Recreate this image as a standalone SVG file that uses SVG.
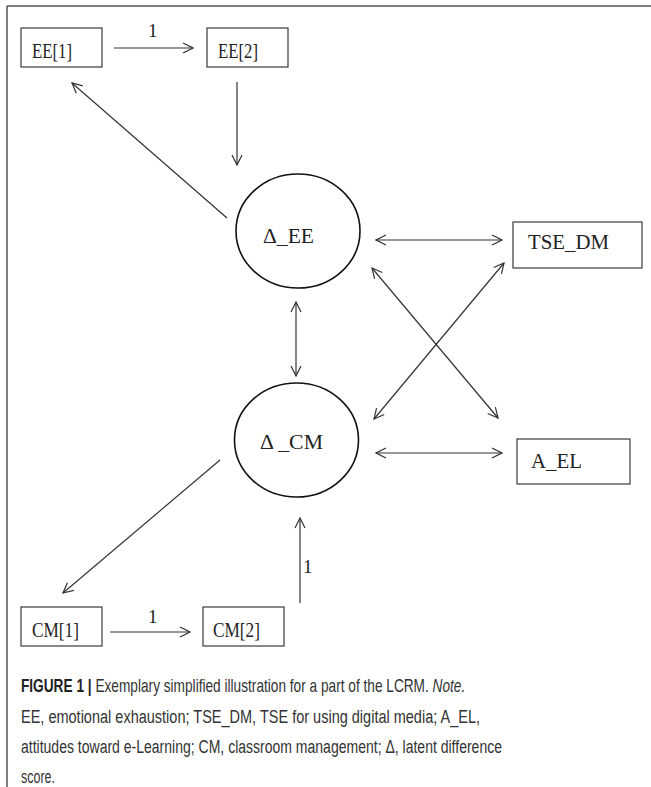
<svg xmlns="http://www.w3.org/2000/svg" width="651" height="787" viewBox="0 0 651 787">
<style>
.box{fill:#fff;stroke:#3a3a3a;stroke-width:1.2}
.lat{fill:#fff;stroke:#111;stroke-width:1.6}
.lbl{font-family:"Liberation Serif","Times New Roman",serif;font-size:22px;fill:#222}
.num{font-family:"Liberation Serif","Times New Roman",serif;font-size:19px;fill:#222}
.con{stroke:#333;stroke-width:1.2;fill:none}
.cap{font-family:"Liberation Sans",Arial,sans-serif;font-size:18px;fill:#333}
</style>
<defs>
<marker id="ah" viewBox="0 0 12 12" refX="11" refY="6" markerWidth="12" markerHeight="12" markerUnits="userSpaceOnUse" orient="auto-start-reverse">
<path d="M1,1 L11,6 L1,11" fill="none" stroke="#333" stroke-width="1.2"/>
</marker>
</defs>
<rect width="651" height="787" fill="#fff"/>
<g id="frame">
<line x1="7" y1="6" x2="651" y2="6" stroke="#555" stroke-width="1.5"/>
<line x1="7" y1="6" x2="7" y2="787" stroke="#555" stroke-width="1.5"/>
</g>
<g id="connectors">
<line class="con" x1="114" y1="48" x2="193" y2="48" marker-end="url(#ah)"/>
<line class="con" x1="237" y1="82" x2="237" y2="165" marker-end="url(#ah)"/>
<line class="con" x1="227" y1="218" x2="72" y2="83" marker-end="url(#ah)"/>
<line class="con" x1="376" y1="240" x2="502" y2="240" marker-start="url(#ah)" marker-end="url(#ah)"/>
<line class="con" x1="296" y1="302" x2="296" y2="376" marker-start="url(#ah)" marker-end="url(#ah)"/>
<line class="con" x1="372" y1="268" x2="498" y2="418" marker-start="url(#ah)" marker-end="url(#ah)"/>
<line class="con" x1="504" y1="263" x2="374" y2="419" marker-start="url(#ah)" marker-end="url(#ah)"/>
<line class="con" x1="376" y1="453" x2="502" y2="453" marker-start="url(#ah)" marker-end="url(#ah)"/>
<line class="con" x1="220" y1="460" x2="63" y2="593" marker-end="url(#ah)"/>
<line class="con" x1="300" y1="603" x2="300" y2="518" marker-end="url(#ah)"/>
<line class="con" x1="110" y1="632" x2="190" y2="632" marker-end="url(#ah)"/>
<text class="num" x="148" y="37">1</text>
<text class="num" x="303" y="573">1</text>
<text class="num" x="148" y="623">1</text>
</g>
<g id="EE1"><rect class="box" x="21" y="28" width="81" height="39"/><text class="lbl" x="32" y="58" textLength="40" lengthAdjust="spacingAndGlyphs">EE[1]</text></g>
<g id="EE2"><rect class="box" x="207" y="28" width="81" height="39"/><text class="lbl" x="218" y="58" textLength="40" lengthAdjust="spacingAndGlyphs">EE[2]</text></g>
<g id="dEE"><ellipse class="lat" cx="298" cy="231" rx="62" ry="57"/><text class="lbl" x="263" y="243" textLength="51" lengthAdjust="spacingAndGlyphs">Δ_EE</text></g>
<g id="TSE_DM"><rect class="box" x="513" y="222" width="129" height="46"/><text class="lbl" x="528" y="249" textLength="81" lengthAdjust="spacingAndGlyphs">TSE_DM</text></g>
<g id="dCM"><ellipse class="lat" cx="296.5" cy="440" rx="62" ry="57"/><text class="lbl" x="260" y="449" textLength="63" lengthAdjust="spacingAndGlyphs">Δ _CM</text></g>
<g id="A_EL"><rect class="box" x="517" y="439" width="113" height="45"/><text class="lbl" x="531" y="468" textLength="51" lengthAdjust="spacingAndGlyphs">A_EL</text></g>
<g id="CM1"><rect class="box" x="21" y="607" width="81" height="39"/><text class="lbl" x="32" y="637" textLength="47" lengthAdjust="spacingAndGlyphs">CM[1]</text></g>
<g id="CM2"><rect class="box" x="203" y="607" width="81" height="39"/><text class="lbl" x="213" y="637" textLength="47" lengthAdjust="spacingAndGlyphs">CM[2]</text></g>
<g id="caption">
<text class="cap" transform="scale(0.76,1)" x="27.6" y="692"><tspan font-weight="bold" fill="#222">FIGURE 1 |</tspan> Exemplary simplified illustration for a part of the LCRM. <tspan font-style="italic">Note.</tspan></text>
<text class="cap" x="21" y="723" textLength="459" lengthAdjust="spacingAndGlyphs">EE, emotional exhaustion; TSE_DM, TSE for using digital media; A_EL,</text>
<text class="cap" x="21" y="753" textLength="481" lengthAdjust="spacingAndGlyphs">attitudes toward e-Learning; CM, classroom management; Δ, latent difference</text>
<text class="cap" x="21" y="783" textLength="34" lengthAdjust="spacingAndGlyphs">score.</text>
</g>
</svg>
